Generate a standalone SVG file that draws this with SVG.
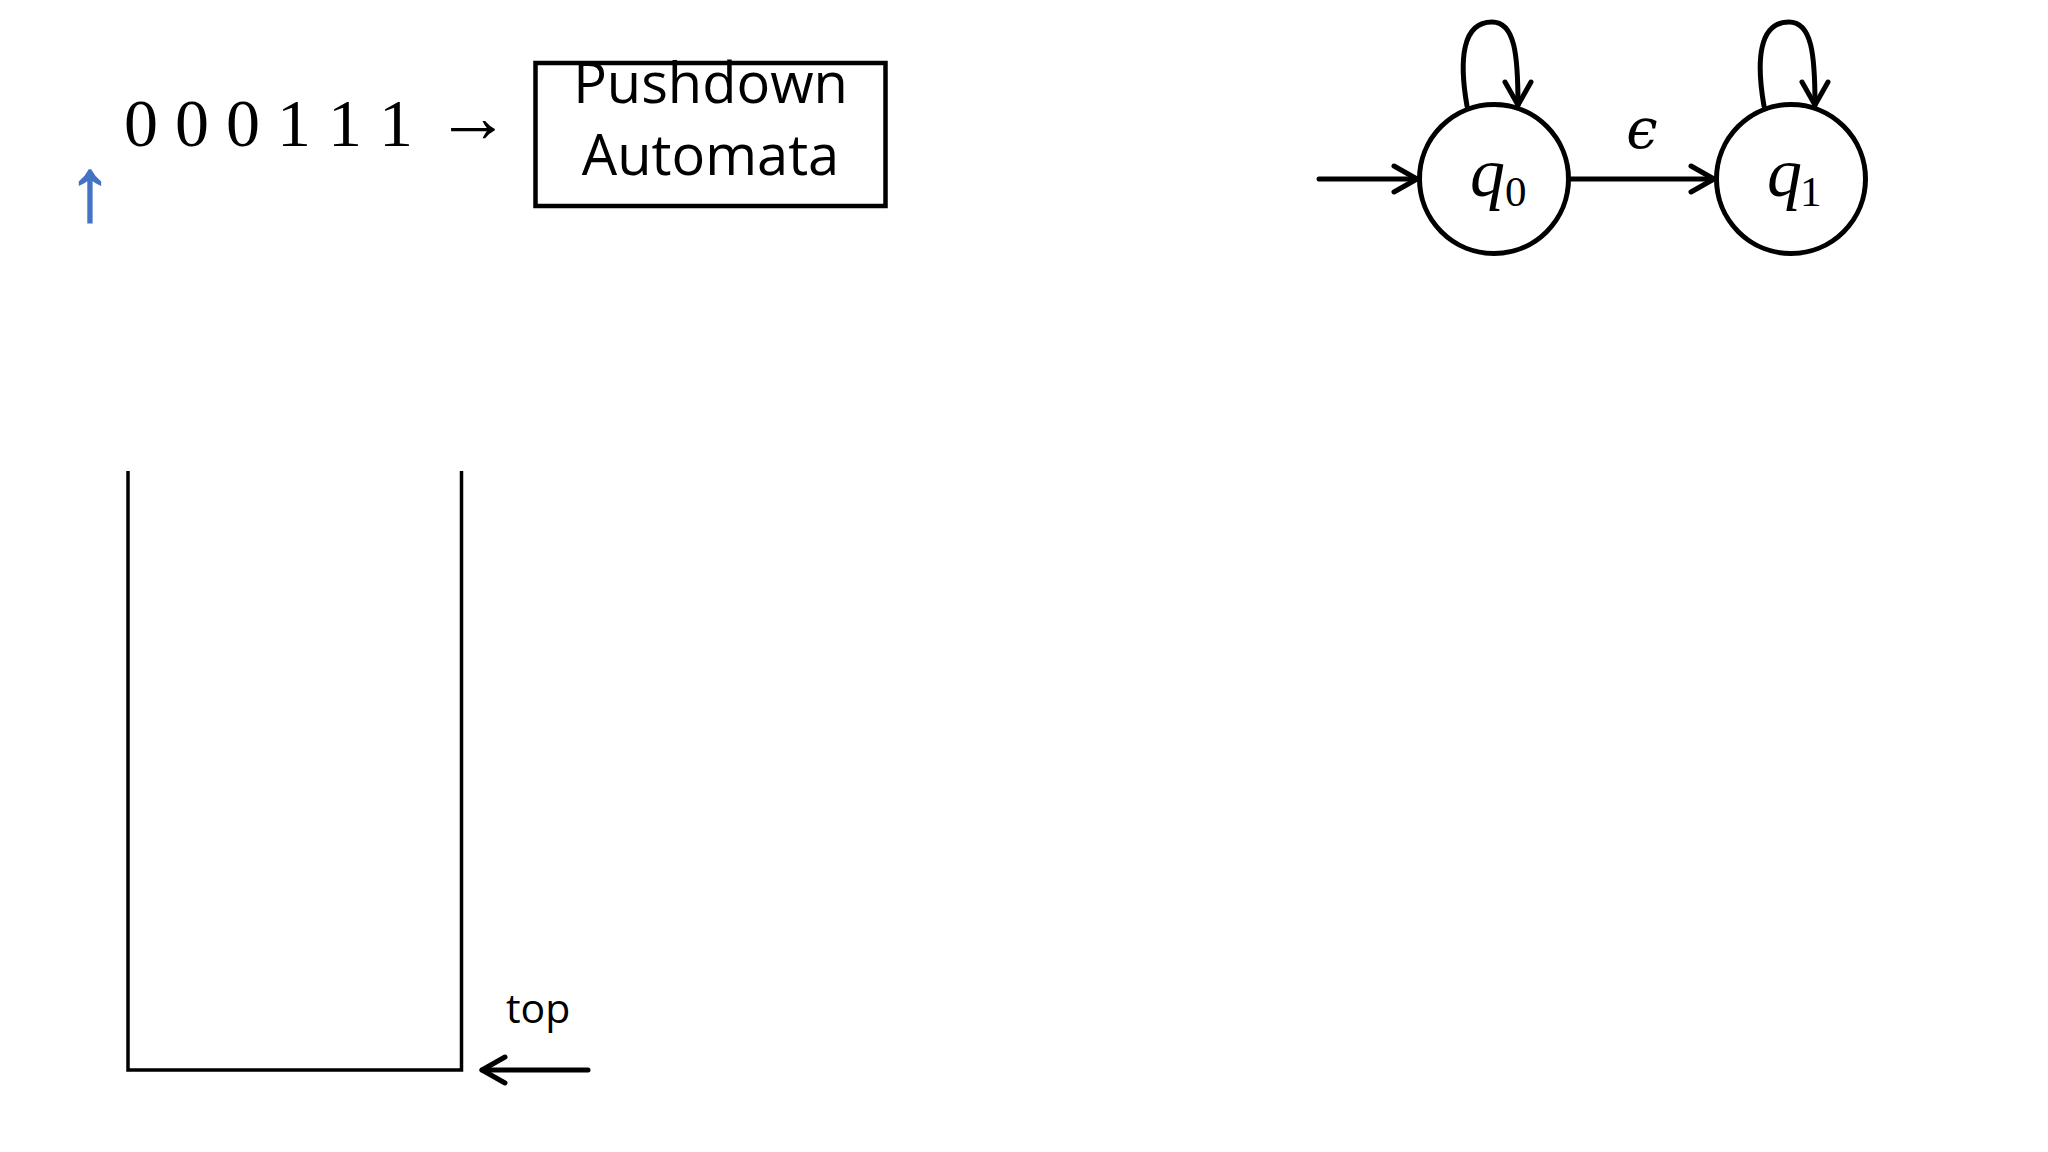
<svg xmlns="http://www.w3.org/2000/svg" width="2048" height="1152" viewBox="0 0 2048 1152">
<style>
.ln{fill:none;stroke:#000;stroke-width:5;stroke-linecap:round}
.st{fill:#fff;stroke:#000;stroke-width:5}
.sans{font-family:"Open Sans","Noto Sans","DejaVu Sans",sans-serif;fill:#000}
.ser{font-family:"Liberation Serif","DejaVu Serif",serif;fill:#000}
.it{font-family:"Liberation Serif","DejaVu Serif",serif;font-style:italic;fill:#000}
</style>
<defs>
<marker id="ah" markerUnits="userSpaceOnUse" markerWidth="40" markerHeight="40" viewBox="-30 -20 40 40" refX="0" refY="0" orient="auto">
<path d="M -23 -13 L 0 0 L -23 13" fill="none" stroke="#000" stroke-width="5" stroke-linecap="round" stroke-linejoin="round"/>
</marker>
</defs>
<rect width="2048" height="1152" fill="#fff"/>
<g id="input-tape">
<text class="ser" x="124" y="146" font-size="68">0 0 0 1 1 1</text>
<text class="ser" x="436" y="142" font-size="74">→</text>
</g>
<g id="head-pointer">
<text x="90" y="220" font-size="89" text-anchor="middle" font-family="Liberation Serif,DejaVu Serif,serif" fill="#4472C4" stroke="#4472C4" stroke-width="1.5">↑</text>
</g>
<g id="pda-box">
<rect x="535.5" y="63" width="350" height="143" fill="none" stroke="#000" stroke-width="4.5"/>
<text class="sans" x="710.5" y="103" font-size="56" text-anchor="middle">Pushdown</text>
<text class="sans" x="710.5" y="175" font-size="56" text-anchor="middle">Automata</text>
</g>
<g id="stack">
<path d="M128 471 V1070 H461.5 V471" fill="none" stroke="#000" stroke-width="3.5"/>
<text class="sans" x="506" y="1023" font-size="41">top</text>
</g>
<g id="q0">
<circle class="st" cx="1494" cy="179" r="74.5"/>
<text class="it" x="1470" y="196" font-size="70">q</text>
<text class="ser" x="1505" y="206" font-size="43">0</text>
</g>
<g id="q1">
<circle class="st" cx="1791" cy="179" r="74.5"/>
<text class="it" x="1767" y="196" font-size="70">q</text>
<text class="ser" x="1800" y="206" font-size="43">1</text>
</g>
<g id="connectors">
<line class="ln" x1="1319" y1="179" x2="1417" y2="179" marker-end="url(#ah)"/>
<line class="ln" x1="1571" y1="179" x2="1714" y2="179" marker-end="url(#ah)"/>
<path class="ln" d="M1467 106 C1459 60 1462 22 1492 22 C1515 22 1518 55 1518 105" marker-end="url(#ah)"/>
<path class="ln" d="M1764 106 C1756 60 1759 22 1789 22 C1812 22 1815 55 1815 105" marker-end="url(#ah)"/>
<line class="ln" x1="588" y1="1070" x2="482" y2="1070" marker-end="url(#ah)"/>
</g>
<g id="labels">
<text x="1642" y="148" font-size="56" text-anchor="middle" font-family="DejaVu Serif,serif" font-style="italic" fill="#000">ϵ</text>
</g>
</svg>
